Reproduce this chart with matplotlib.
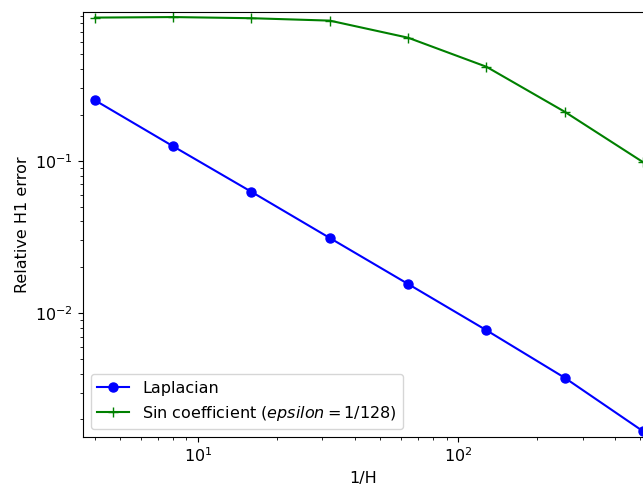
import matplotlib
matplotlib.use("Agg")
import matplotlib.pyplot as plt

inv_h = [4, 8, 16, 32, 64, 128, 256, 512]
laplacian_err = [0.25, 0.1245, 0.0625, 0.0311, 0.0155, 0.0077, 0.00375, 0.00167]
sin_coef_err = [0.873, 0.88, 0.865, 0.834, 0.644, 0.415, 0.21, 0.098]

plt.rcParams["font.size"] = 11.5

fig = plt.figure(figsize=(6.43, 4.86), dpi=100)
ax = fig.add_axes([0.129, 0.1008, 0.871, 0.8742])

ax.loglog(inv_h, laplacian_err, "bo-", label="Laplacian", markersize=6.5)
ax.loglog(inv_h, sin_coef_err, "g+-", label="Sin coefficient ($epsilon = 1/128$)", markersize=6.5)

ax.set_xlim(3.6, 512)
ax.set_ylim(0.00153, 0.948)
ax.spines["right"].set_visible(False)
ax.set_xlabel("1/H")
ax.set_ylabel("Relative H1 error")
ax.legend(loc="lower left")

fig.savefig("out.png", dpi=100)
